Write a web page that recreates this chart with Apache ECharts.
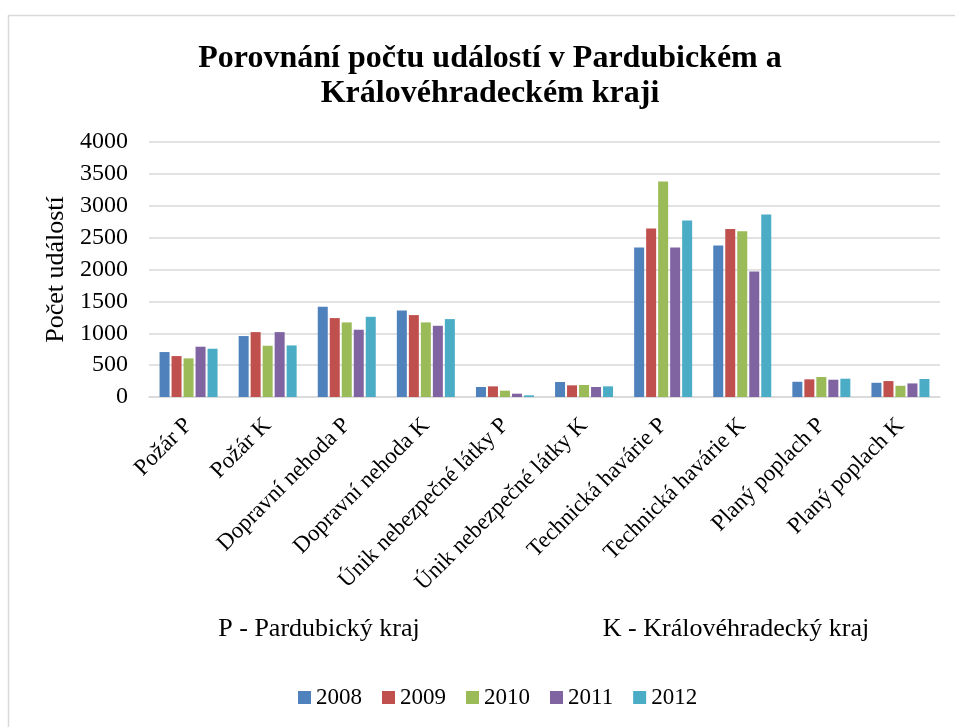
<!DOCTYPE html>
<html>
<head>
<meta charset="utf-8">
<script src="https://cdn.jsdelivr.net/npm/echarts@6/dist/echarts.min.js"></script>
<style>html,body{margin:0;padding:0;background:#fff;}#c{width:955px;height:727px;}</style>
</head>
<body>
<div id="c"></div>
<script>
var categories = ['Požár P','Požár K','Dopravní nehoda P','Dopravní nehoda K','Únik nebezpečné látky P','Únik nebezpečné látky K','Technická havárie P','Technická havárie K','Planý poplach P','Planý poplach K'];
var years = ['2008','2009','2010','2011','2012'];
var v2008 = [705, 956, 1415, 1358, 157, 235, 2345, 2376, 239, 223];
var v2009 = [642, 1018, 1238, 1285, 167, 183, 2642, 2637, 277, 250];
var v2010 = [606, 804, 1170, 1170, 99, 188, 3379, 2601, 314, 176];
var v2011 = [789, 1018, 1055, 1117, 52, 157, 2345, 1969, 271, 213];
var v2012 = [757, 809, 1258, 1222, 26, 167, 2768, 2862, 287, 282];
var yTicks = [0, 500, 1000, 1500, 2000, 2500, 3000, 3500, 4000];
var colors = ['#4F81BD','#C0504D','#9BBB59','#8064A2','#4BACC6'];
var seriesValues = [v2008, v2009, v2010, v2011, v2012];
var FONT = '"Liberation Serif", "Times New Roman", serif';

var chart = echarts.init(document.getElementById('c'));
chart.setOption({
  animation: false,
  color: colors,
  textStyle: {fontFamily: FONT},
  title: {
    text: 'Porovnání počtu událostí v Pardubickém a\nKrálovéhradeckém kraji',
    left: 485, top: 36, textAlign: 'center',
    textStyle: {fontFamily: FONT, fontSize: 32, fontWeight: 'bold', color: '#000', lineHeight: 35}
  },
  legend: {
    data: years, top: 681, left: 293,
    itemWidth: 13, itemHeight: 13, itemGap: 20, icon: 'rect',
    textStyle: {fontFamily: FONT, fontSize: 23, color: '#000'}
  },
  grid: {left: 149, right: 15, top: 142, bottom: 330, containLabel: false},
  xAxis: {
    type: 'category', data: categories,
    axisLine: {lineStyle: {color: '#d9d9d9', width: 1.5}},
    axisTick: {show: false},
    axisLabel: {rotate: 45, interval: 0, margin: 25, fontFamily: FONT, fontSize: 23, color: '#000'}
  },
  yAxis: {
    type: 'value', min: 0, max: 4000, interval: 500,
    name: 'Počet událostí', nameLocation: 'middle', nameGap: 75, nameRotate: 90,
    nameTextStyle: {fontFamily: FONT, fontSize: 26, color: '#000'},
    axisLine: {show: false}, axisTick: {show: false},
    axisLabel: {margin: 21, fontFamily: FONT, fontSize: 24, color: '#000',
      formatter: function (v) { return yTicks.indexOf(v) >= 0 ? String(v) : ''; }},
    splitLine: {lineStyle: {color: '#d9d9d9', width: 1.5}}
  },
  series: years.map(function (y, i) {
    return {name: y, type: 'bar', data: seriesValues[i], barWidth: 10, barGap: '20%',
      itemStyle: {color: colors[i]}};
  }),
  graphic: [
    {type: 'rect', shape: {x: 8.5, y: 15.5, width: 1000, height: 800}, style: {fill: 'none', stroke: '#d9d9d9', lineWidth: 1.5}, silent: true},
    {type: 'text', x: 319, y: 629, style: {text: 'P - Pardubický kraj', font: '26px ' + FONT, fill: '#000', textAlign: 'center', textVerticalAlign: 'middle'}},
    {type: 'text', x: 736, y: 629, style: {text: 'K - Královéhradecký kraj', font: '26px ' + FONT, fill: '#000', textAlign: 'center', textVerticalAlign: 'middle'}}
  ]
});
</script>
</body>
</html>
